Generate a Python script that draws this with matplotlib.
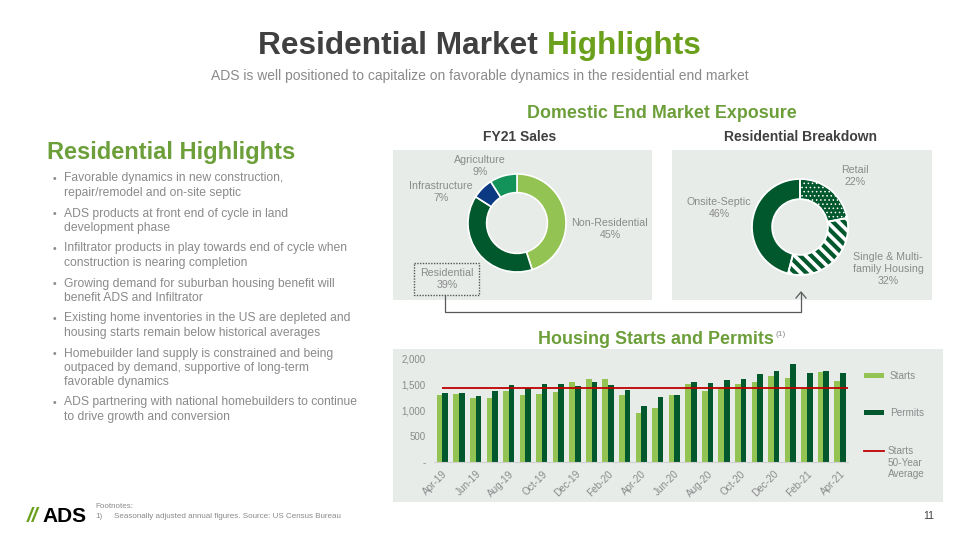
import matplotlib
matplotlib.use("Agg")
import matplotlib.pyplot as plt
from matplotlib.transforms import Affine2D
from matplotlib.patches import Rectangle
import numpy as np

plt.rcParams['font.family'] = ['Liberation Sans', 'DejaVu Sans']

# ---------------- data ----------------
months = ["Apr-19", "May-19", "Jun-19", "Jul-19", "Aug-19", "Sep-19", "Oct-19", "Nov-19",
          "Dec-19", "Jan-20", "Feb-20", "Mar-20", "Apr-20", "May-20", "Jun-20", "Jul-20",
          "Aug-20", "Sep-20", "Oct-20", "Nov-20", "Dec-20", "Jan-21", "Feb-21", "Mar-21", "Apr-21"]
starts = [1292, 1312, 1247, 1234, 1377, 1292, 1325, 1357, 1558, 1604, 1604, 1292, 942,
          1052, 1300, 1506, 1383, 1455, 1520, 1558, 1669, 1630, 1442, 1740, 1575]
permits = [1344, 1344, 1279, 1377, 1487, 1442, 1520, 1520, 1468, 1558, 1487, 1390, 1097,
           1253, 1305, 1545, 1526, 1597, 1604, 1701, 1766, 1896, 1727, 1766, 1732]
starts_avg = 1440
yticks = [0, 500, 1000, 1500, 2000]
ytick_labels = ["-", "500", "1,000", "1,500", "2,000"]

sales_labels = ["Non-Residential\n45%", "Residential\n39%", "Infrastructure\n7%", "Agriculture\n9%"]
sales_values = [45, 39, 7, 9]
res_labels = ["Retail\n22%", "Single & Multi-\nfamily Housing\n32%", "Onsite-Septic\n46%"]
res_values = [22, 32, 46]

bullets = [
    "Favorable dynamics in new construction,\nrepair/remodel and on-site septic",
    "ADS products at front end of cycle in land\ndevelopment phase",
    "Infiltrator products in play towards end of cycle when\nconstruction is nearing completion",
    "Growing demand for suburban housing benefit will\nbenefit ADS and Infiltrator",
    "Existing home inventories in the US are depleted and\nhousing starts remain below historical averages",
    "Homebuilder land supply is constrained and being\noutpaced by demand, supportive of long-term\nfavorable dynamics",
    "ADS partnering with national homebuilders to continue\nto drive growth and conversion",
]

# ---------------- style ----------------
W, H = 960, 540
LIGHT = "#92c353"
DARK = "#00582c"
NAVY = "#0b3a82"
MID = "#13925a"
RED = "#c00000"
PANEL = "#e7ece9"
GREEN_T = "#6aa01c"
GREEN_H = "#6c9f3a"
GRAY_T = "#8a8a8a"
DGRAY = "#404040"

fig = plt.figure(figsize=(W / 100, H / 100), dpi=100)
fig.patch.set_facecolor("white")
px = Affine2D().scale(1 / W, -1 / H).translate(0, 1) + fig.transFigure


def add_ax(x0, y0, x1, y1, **kw):
    return fig.add_axes([x0 / W, 1 - y1 / H, (x1 - x0) / W, (y1 - y0) / H], **kw)


def rect(x0, y0, x1, y1, **kw):
    r = Rectangle((x0, y0), x1 - x0, y1 - y0, transform=px, **kw)
    fig.add_artist(r)
    return r


def txt(x, y, s, **kw):
    return fig.text(x, y, s, transform=px, **kw)


def set_hlw(p, lw):
    if hasattr(p, "set_hatch_linewidth"):
        p.set_hatch_linewidth(lw)
    else:
        p._hatch_linewidth = lw


# panels
rect(393, 150, 652, 300, facecolor=PANEL, edgecolor="none", zorder=0)
rect(672, 150, 932, 300, facecolor=PANEL, edgecolor="none", zorder=0)
rect(393, 349, 943, 502, facecolor=PANEL, edgecolor="none", zorder=0)

# titles
t1 = txt(258, 46, "Residential Market ", fontsize=22.8, fontweight="bold", color=DGRAY,
         ha="left", va="center")
fig.canvas.draw()
bb = t1.get_window_extent()
x_end = bb.x1 * W / fig.bbox.width
txt(x_end, 46, "Highlights", fontsize=22.8, fontweight="bold", color=GREEN_T, ha="left", va="center")
txt(480, 76, "ADS is well positioned to capitalize on favorable dynamics in the residential end market",
    fontsize=10.0, color=GRAY_T, ha="center", va="center")

txt(662, 114, "Domestic End Market Exposure", fontsize=12.9, fontweight="bold", color=GREEN_H,
    ha="center", va="center")
txt(520, 137, "FY21 Sales", fontsize=10, fontweight="bold", color=DGRAY, ha="center", va="center")
txt(801, 137, "Residential Breakdown", fontsize=10, fontweight="bold", color=DGRAY, ha="center",
    va="center")
txt(774, 340, "Housing Starts and Permits", fontsize=12.9, fontweight="bold", color=GREEN_H,
    ha="right", va="center")
txt(775, 334, "(1)", fontsize=6, color=GRAY_T, ha="left", va="center")

# left text
txt(47, 152, "Residential Highlights", fontsize=17, fontweight="bold", color=GREEN_H,
    ha="left", va="center")
bullet_y = [179, 214, 249, 284, 319, 354, 403]
for y, b in zip(bullet_y, bullets):
    txt(53, y, "\u2022", fontsize=7.5, color=GRAY_T, ha="left", va="center")
    txt(64, y - 6.5, b, fontsize=8.7, color=GRAY_T, ha="left", va="top", linespacing=1.25)

# ---------------- donut 1 ----------------
ax1 = add_ax(467, 173, 567, 273)
ax1.pie(sales_values, colors=[LIGHT, DARK, NAVY, MID], startangle=90, counterclock=False,
        radius=1, wedgeprops=dict(width=0.38, edgecolor="white", linewidth=1.2))
ax1.set_xlim(-1.02, 1.02)
ax1.set_ylim(-1.02, 1.02)
ax1.set_aspect("equal")
ax1.axis("off")

lab_kw = dict(fontsize=7.7, color=GRAY_T, ha="center", va="center", linespacing=1.25)
txt(610, 229, sales_labels[0], **lab_kw)
txt(447, 279, sales_labels[1], **lab_kw)
txt(441, 192, sales_labels[2], **lab_kw)
txt(480, 166, sales_labels[3], **lab_kw)
rect(414, 263, 479, 295, facecolor="none", edgecolor="#555555", linestyle=(0, (1, 1)),
     linewidth=1.0, zorder=3)

# ---------------- donut 2 ----------------
ax2 = add_ax(751, 178, 849, 276)
w2, _ = ax2.pie(res_values, colors=[DARK, "white", DARK], startangle=90, counterclock=False,
                radius=1, wedgeprops=dict(width=0.42, linewidth=0))
w2[0].set_edgecolor("white")
w2[0].set_hatch("....")
set_hlw(w2[0], 0.6)
w2[1].set_edgecolor(DARK)
w2[1].set_hatch("\\\\\\")
set_hlw(w2[1], 3.0)
w2[2].set_edgecolor(DARK)
# white separators on top
ax2.pie(res_values, colors=["none"] * 3, startangle=90, counterclock=False, radius=1,
        wedgeprops=dict(width=0.42, edgecolor="white", linewidth=1.3))
ax2.set_xlim(-1.02, 1.02)
ax2.set_ylim(-1.02, 1.02)
ax2.set_aspect("equal")
ax2.axis("off")

txt(855, 176, res_labels[0], **lab_kw)
txt(888, 269, res_labels[1], **lab_kw)
txt(719, 208, res_labels[2], **lab_kw)

# connector
fig.add_artist(plt.Line2D([445, 445, 801, 801], [295, 312, 312, 293], transform=px,
                          color="#595959", linewidth=0.9))
fig.add_artist(plt.Line2D([796, 801, 806], [298, 292, 298], transform=px,
                          color="#595959", linewidth=0.9))

# ---------------- bar chart ----------------
axb = add_ax(434.2, 359, 848.3, 462)
axb.set_facecolor("none")
x = np.arange(len(months))
bw = 0.34
axb.bar(x - bw / 2, starts, width=bw, color=LIGHT, zorder=2)
axb.bar(x + bw / 2, permits, width=bw, color=DARK, zorder=2)
axb.hlines(starts_avg, 0, len(months) - 0.4, color=RED, linewidth=1.3, zorder=3)
axb.set_xlim(-0.5, len(months) - 0.5)
axb.set_ylim(0, 2000)
axb.set_yticks(yticks)
axb.set_yticklabels(ytick_labels, fontsize=7, color=GRAY_T)
axb.set_xticks(x[::2])
axb.set_xticklabels(months[::2], rotation=45, ha="right", va="top", rotation_mode="anchor",
                    fontsize=7.2, color=GRAY_T)
axb.tick_params(axis="both", length=0)
axb.tick_params(axis="y", pad=6)
axb.tick_params(axis="x", pad=5)
for s in ["top", "right", "left"]:
    axb.spines[s].set_visible(False)
axb.spines["bottom"].set_color("#d0d0d0")
axb.spines["bottom"].set_linewidth(0.8)

# legend (manual)
rect(864, 373, 884, 378, facecolor=LIGHT, edgecolor="none")
txt(890, 376, "Starts", fontsize=7.2, color=GRAY_T, ha="left", va="center")
rect(864, 410, 884, 415, facecolor=DARK, edgecolor="none")
txt(890, 413, "Permits", fontsize=7.2, color=GRAY_T, ha="left", va="center")
fig.add_artist(plt.Line2D([864, 884], [451, 451], transform=px, color=RED, linewidth=1.3))
txt(888, 446, "Starts\n50-Year\nAverage", fontsize=7.2, color=GRAY_T, ha="left", va="top",
    linespacing=1.2)

# footer
txt(27, 516, "//", fontsize=15, fontweight="bold", color="#6aa01c", ha="left", va="center",
    style="italic")
txt(42, 516, "ADS", fontsize=15, fontweight="bold", color="black", ha="left", va="center")
txt(95, 507, "Footnotes:", fontsize=5.8, color=GRAY_T, ha="left", va="center")
txt(95, 516, "1)", fontsize=5.8, color=GRAY_T, ha="left", va="center")
txt(114, 516, "Seasonally adjusted annual figures. Source: US Census Bureau", fontsize=5.8,
    color=GRAY_T, ha="left", va="center")
txt(934, 516, "11", fontsize=7.5, color=DGRAY, ha="right", va="center")

fig.savefig("out.png", dpi=100, facecolor="white")
